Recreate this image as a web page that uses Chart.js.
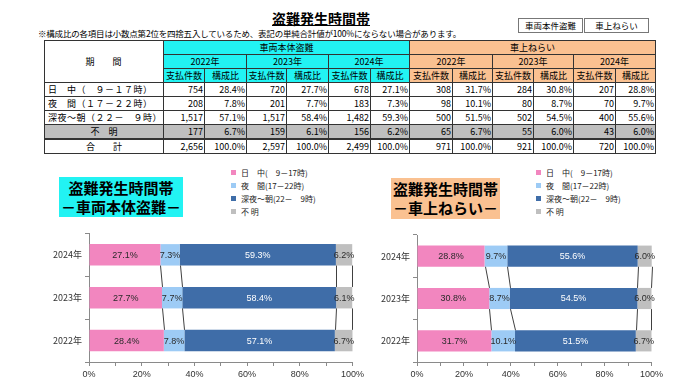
<!DOCTYPE html>
<html><head><meta charset="utf-8">
<script src="https://cdn.jsdelivr.net/npm/chart.js@4.4.1/dist/chart.umd.min.js"></script>
<style>
body{margin:0;width:680px;height:382px;background:#fff;position:relative;overflow:hidden;font-family:"Noto Sans CJK JP",sans-serif;color:#000}
.abs{position:absolute}
#title{left:250px;width:142px;top:8px;text-align:center;font-size:14px;font-weight:bold;text-decoration:underline;line-height:20px}
#note{left:38px;top:27px;font-size:8.5px;line-height:12px;white-space:nowrap;letter-spacing:-0.2px}
.btn{top:18px;height:13px;border:1px solid #777;font-size:8.5px;line-height:13px;text-align:center;background:#fff}
#tbl{left:44px;top:40px}
table{border-collapse:collapse;table-layout:fixed;font-size:9px}
td{border:1px solid #333;padding:0 1px;height:13px;line-height:12px;white-space:nowrap;overflow:hidden}
td.n{text-align:right}
td.c{text-align:center}
td.lbl{text-align:left;letter-spacing:0.5px;padding-left:3px}
.cy{background:#22F3F3}
.or{background:#FAC191}
.gr{background:#BFBFBF}
tr.tot td{border-top:2.5px solid #333}
.tbox{font-size:15px;font-weight:bold;text-align:center;line-height:19px}
.leg{font-size:8px;line-height:13px;white-space:nowrap;color:#222}
.leg span.m{display:inline-block;width:5px;height:5px;margin-right:5px;vertical-align:1px}
canvas{position:absolute}
</style></head>
<body>
<div id="title" class="abs">盗難発生時間帯</div>
<div id="note" class="abs">※構成比の各項目は小数点第2位を四捨五入しているため、表記の単純合計値が100%にならない場合があります。</div>
<div class="abs btn" style="left:518px;width:63px">車両本件盗難</div>
<div class="abs btn" style="left:584px;width:63px">車上ねらい</div>
<div id="tbl" class="abs"></div>

<div class="abs tbox" style="left:59px;top:177px;width:124px;height:40px;background:#22F3F3;padding-top:1px;box-sizing:border-box">盗難発生時間帯<br>－車両本体盗難－</div>
<div class="abs tbox" style="left:391px;top:178px;width:109px;height:41px;background:#FAC191;padding-top:1px;box-sizing:border-box">盗難発生時間帯<br>－車上ねらい－</div>
<div id="leg1" class="abs leg" style="left:231px;top:166px"></div>
<div id="leg2" class="abs leg" style="left:536px;top:166px"></div>

<canvas id="c1" style="left:40px;top:225px" width="327" height="157"></canvas>
<canvas id="c2" style="left:368px;top:225px" width="298" height="157"></canvas>

<script>
// ---- data ----
const years = ['2022年', '2023年', '2024年'];
const groupNames = ['車両本体盗難', '車上ねらい'];
const periodRows = ['日　中（　９－１７時）', '夜　間（１７－２２時）', '深夜～朝（２２－　９時）', '不　明'];
const seriesNames = ['日　中(　9－17時)', '夜　間(17－22時)', '深夜～朝(22－　9時)', '不 明'];
const seriesColors = ['#F286BF', '#9DCBF5', '#3F6DA8', '#BFBFBF'];
const labelColors = ['#2a2a2a', '#2a2a2a', '#ffffff', '#2a2a2a'];

// 車両本体盗難 (2022, 2023, 2024)
const bodyDayCount = [754, 720, 678];
const bodyEveningCount = [208, 201, 183];
const bodyNightCount = [1517, 1517, 1482];
const bodyUnknownCount = [177, 159, 156];
const bodyTotalCount = [2656, 2597, 2499];
const bodyDayPct = [28.4, 27.7, 27.1];
const bodyEveningPct = [7.8, 7.7, 7.3];
const bodyNightPct = [57.1, 58.4, 59.3];
const bodyUnknownPct = [6.7, 6.1, 6.2];

// 車上ねらい (2022, 2023, 2024)
const carDayCount = [308, 284, 207];
const carEveningCount = [98, 80, 70];
const carNightCount = [500, 502, 400];
const carUnknownCount = [65, 55, 43];
const carTotalCount = [971, 921, 720];
const carDayPct = [31.7, 30.8, 28.8];
const carEveningPct = [10.1, 8.7, 9.7];
const carNightPct = [51.5, 54.5, 55.6];
const carUnknownPct = [6.7, 6.0, 6.0];

const xTicks = [0, 20, 40, 60, 80, 100];

// ---- table ----
const fmtN = v => v.toLocaleString('en-US');
const fmtP = v => v.toFixed(1) + '%';
const bodyCounts = [bodyDayCount, bodyEveningCount, bodyNightCount, bodyUnknownCount];
const bodyPcts = [bodyDayPct, bodyEveningPct, bodyNightPct, bodyUnknownPct];
const carCounts = [carDayCount, carEveningCount, carNightCount, carUnknownCount];
const carPcts = [carDayPct, carEveningPct, carNightPct, carUnknownPct];

const colW = [119, 41, 42, 40, 42, 42, 39, 43, 40, 41, 40, 42, 40];
let h = '<table><colgroup>' + colW.map(w => `<col style="width:${w}px">`).join('') + '</colgroup>';
h += `<tr><td rowspan="3" class="c" style="letter-spacing:18px;padding-left:18px">期間</td><td colspan="6" class="c cy">${groupNames[0]}</td><td colspan="6" class="c or">${groupNames[1]}</td></tr>`;
h += '<tr>' + years.map(y => `<td colspan="2" class="c cy">${y}</td>`).join('') + years.map(y => `<td colspan="2" class="c or">${y}</td>`).join('') + '</tr>';
h += '<tr>' + years.map(() => '<td class="c cy">支払件数</td><td class="c cy">構成比</td>').join('') + years.map(() => '<td class="c or">支払件数</td><td class="c or">構成比</td>').join('') + '</tr>';
periodRows.forEach((p, r) => {
  const g = r === 3 ? ' gr' : '';
  h += `<tr><td class="${r === 3 ? 'c' : 'lbl'}${g}">${p}</td>`;
  for (let y = 0; y < 3; y++) h += `<td class="n${g}">${fmtN(bodyCounts[r][y])}</td><td class="n${g}">${fmtP(bodyPcts[r][y])}</td>`;
  for (let y = 0; y < 3; y++) h += `<td class="n${g}">${fmtN(carCounts[r][y])}</td><td class="n${g}">${fmtP(carPcts[r][y])}</td>`;
  h += '</tr>';
});
h += '<tr class="tot"><td class="c">合　　計</td>';
for (let y = 0; y < 3; y++) h += `<td class="n">${fmtN(bodyTotalCount[y])}</td><td class="n">100.0%</td>`;
for (let y = 0; y < 3; y++) h += `<td class="n">${fmtN(carTotalCount[y])}</td><td class="n">100.0%</td>`;
h += '</tr></table>';
document.getElementById('tbl').innerHTML = h;

// ---- legends ----
const legHtml = seriesNames.map((s, i) => `<div><span class="m" style="background:${seriesColors[i]}"></span>${s}</div>`).join('');
document.getElementById('leg1').innerHTML = legHtml;
document.getElementById('leg2').innerHTML = legHtml;

// ---- charts ----
const overlay = {
  id: 'overlay',
  afterDatasetsDraw(chart) {
    const ctx = chart.ctx;
    ctx.save();
    ctx.strokeStyle = '#404040';
    ctx.lineWidth = 1;
    chart.data.datasets.forEach((ds, i) => {
      const els = chart.getDatasetMeta(i).data;
      for (let j = 0; j < els.length - 1; j++) {
        const a = els[j].getProps(['x', 'y', 'height'], true);
        const b = els[j + 1].getProps(['x', 'y', 'height'], true);
        ctx.beginPath();
        ctx.moveTo(Math.round(a.x) + 0.5, a.y + a.height / 2);
        ctx.lineTo(Math.round(b.x) + 0.5, b.y - b.height / 2);
        ctx.stroke();
      }
    });
    ctx.font = '9px "Liberation Sans", sans-serif';
    ctx.textAlign = 'center';
    ctx.textBaseline = 'middle';
    chart.data.datasets.forEach((ds, i) => {
      const els = chart.getDatasetMeta(i).data;
      ctx.fillStyle = labelColors[i];
      els.forEach((el, j) => {
        const p = el.getProps(['x', 'y', 'base'], true);
        ctx.fillText(ds.data[j].toFixed(1) + '%', (p.x + p.base) / 2, p.y + 0.5);
      });
    });
    ctx.restore();
  }
};

function makeChart(id, pcts, topPad) {
  const labels = years.slice().reverse();
  new Chart(document.getElementById(id), {
    type: 'bar',
    data: {
      labels,
      datasets: pcts.map((arr, i) => ({
        label: seriesNames[i],
        data: arr.slice().reverse(),
        backgroundColor: seriesColors[i],
        borderWidth: 0,
        categoryPercentage: 1,
        barPercentage: 0.5,
        clip: false
      }))
    },
    options: {
      indexAxis: 'y',
      responsive: false,
      animation: false,
      layout: { padding: { top: topPad, left: 0, right: 0, bottom: 0 } },
      plugins: { legend: { display: false }, tooltip: { enabled: false } },
      scales: {
        x: {
          stacked: true, min: 0, max: 100,
          ticks: {
            stepSize: 10, autoSkip: false, maxRotation: 0,
            font: { size: 9, family: '"Liberation Sans", sans-serif' }, color: '#333',
            callback: v => (xTicks.includes(v) ? v + '%' : '')
          },
          grid: { drawOnChartArea: false, drawTicks: true, tickLength: 4, color: '#8a8a8a' },
          border: { display: true, color: '#8a8a8a' },
          afterFit: s => { s.height = 20; }
        },
        y: {
          stacked: true,
          ticks: { font: { size: 9, family: '"Noto Sans CJK JP", sans-serif' }, color: '#333', padding: 3 },
          grid: { offset: true, drawOnChartArea: false, drawTicks: true, tickLength: 4, color: '#8a8a8a' },
          border: { display: true, color: '#8a8a8a' },
          afterFit: s => { s.width = 49; }
        }
      }
    },
    plugins: [overlay]
  });
}
makeChart('c1', bodyPcts, 7);
makeChart('c2', carPcts, 10);
</script>
</body></html>
